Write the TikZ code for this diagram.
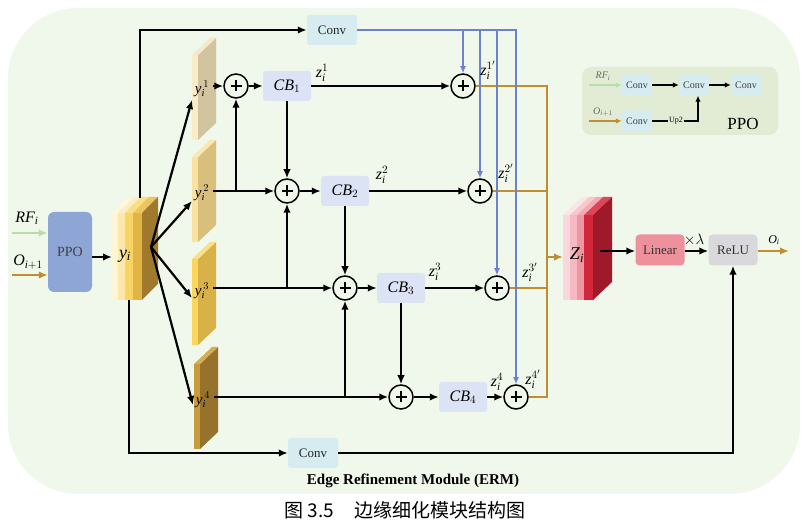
\RequirePackage{fix-cm}
\documentclass[tikz,border=0pt]{standalone}
\usepackage{fontspec}
\setmainfont{Liberation Serif}
\newfontfamily\cjkfont{Noto Sans CJK SC}
\usetikzlibrary{arrows.meta}
\definecolor{bgc}{RGB}{240,247,235}
\definecolor{insetc}{RGB}{226,236,212}
\definecolor{convc}{RGB}{214,236,240}
\definecolor{cbc}{RGB}{220,227,245}
\definecolor{ppoc}{RGB}{142,166,214}
\definecolor{linc}{RGB}{238,145,157}
\definecolor{reluc}{RGB}{217,217,220}
\definecolor{bluec}{RGB}{108,130,208}
\definecolor{goldc}{RGB}{192,142,46}
\definecolor{greenc}{RGB}{184,221,168}
% y block
\definecolor{yt1}{RGB}{254,246,222}
\definecolor{yt2}{RGB}{252,238,196}
\definecolor{yt3}{RGB}{250,222,130}
\definecolor{yt4}{RGB}{236,196,96}
\definecolor{yf1}{RGB}{254,244,214}
\definecolor{yf2}{RGB}{252,232,170}
\definecolor{yf3}{RGB}{248,212,100}
\definecolor{yf4}{RGB}{226,180,70}
\definecolor{ys}{RGB}{160,122,44}
% slabs
\definecolor{s1f}{RGB}{251,236,200}
\definecolor{s1s}{RGB}{211,196,160}
\definecolor{s1t}{RGB}{246,232,198}
\definecolor{s2f}{RGB}{250,226,160}
\definecolor{s2s}{RGB}{216,192,124}
\definecolor{s2t}{RGB}{250,232,176}
\definecolor{s3f}{RGB}{252,214,92}
\definecolor{s3s}{RGB}{216,178,72}
\definecolor{s3t}{RGB}{252,224,130}
\definecolor{s4f}{RGB}{200,155,60}
\definecolor{s4s}{RGB}{150,114,44}
\definecolor{s4t}{RGB}{214,172,84}
% Z block
\definecolor{zt1}{RGB}{252,228,231}
\definecolor{zt2}{RGB}{248,200,207}
\definecolor{zt3}{RGB}{242,170,180}
\definecolor{zt4}{RGB}{222,70,88}
\definecolor{zf1}{RGB}{250,215,220}
\definecolor{zf2}{RGB}{245,185,193}
\definecolor{zf3}{RGB}{238,150,162}
\definecolor{zf4}{RGB}{210,38,58}
\definecolor{zs}{RGB}{158,26,42}
\newcommand\mi[1]{\mathit{#1}}
\newcommand\fs[1]{\fontsize{#1}{#1}\selectfont}
% slab: x, top, height, front colour, side colour, top colour
\newcommand\slabdraw[6]{%
  \fill[#4] (#1,#2) rectangle ++(6,#3);
  \fill[#5] (#1+6,#2) -- ++(18,-17) -- ++(0,#3) -- ++(-18,17) -- cycle;
  \fill[#6] (#1,#2) -- ++(18,-17) -- ++(6,0) -- ++(-18,17) -- cycle;
}
\begin{document}
\begin{tikzpicture}[x=1pt,y=-1pt,
  convbox/.style={fill=convc, rounded corners=3pt, minimum width=50pt, minimum height=30pt, inner sep=0pt, font=\fs{13}, text=black!85},
  iconv/.style={fill=convc, rounded corners=2pt, minimum width=30pt, minimum height=21pt, inner sep=0pt, font=\fs{10}, text=black!75},
  cbbox/.style={fill=cbc, rounded corners=3pt, minimum width=48pt, minimum height=30pt, inner sep=0pt, font=\fs{16}},
  plusnode/.style={circle, draw=black, line width=1.5pt, fill=bgc, minimum size=24pt, inner sep=0pt,
    path picture={\draw[line width=1.7pt] ([xshift=-5.5pt]path picture bounding box.center) -- ([xshift=5.5pt]path picture bounding box.center) ([yshift=-5.5pt]path picture bounding box.center) -- ([yshift=5.5pt]path picture bounding box.center);}},
  lab/.style={inner sep=0pt, font=\fs{16}},
  slablab/.style={inner sep=0pt, font=\fs{15}},
  arr/.style={line width=2.2pt, -{Latex[length=9pt,width=7.5pt]}},
  arrs/.style={line width=1.5pt, -{Latex[length=6pt,width=5.5pt]}},
  bluel/.style={draw=bluec, line width=1.8pt},
  bluearr/.style={bluel, -{Latex[length=7pt,width=6pt]}},
  goldl/.style={draw=goldc, line width=2.8pt},
  goldarr/.style={goldl, -{Latex[length=9pt,width=7.5pt]}},
  greenarr/.style={draw=greenc, line width=2.6pt, -{Latex[length=9pt,width=7.5pt]}}
]
\useasboundingbox (0,0) rectangle (809,526);
\fill[bgc, rounded corners=70pt] (8,8) rectangle (800,494);

% ---------- PPO inset ----------
\fill[insetc, rounded corners=9pt] (582,67) rectangle (778,135);
\node[iconv] (ia) at (637,85) {Conv};
\node[iconv] (ib) at (694,85) {Conv};
\node[iconv] (ic) at (746,85) {Conv};
\node[iconv] (id) at (637,121) {Conv};
\coordinate (irf) at (589,85);
\coordinate (io) at (589,121);
\draw[draw=greenc, line width=1.5pt, -{Latex[length=6pt,width=5.5pt]}] (irf) -- (ia.west);
\draw[draw=goldc, line width=1.7pt, -{Latex[length=6pt,width=5.5pt]}] (io) -- (id.west);
\node[inner sep=0pt, font=\fs{10}, text=black!60] (irfl) at (603,76) {$\mi{RF}_{\mi{i}}$};
\node[inner sep=0pt, font=\fs{10}, text=black!60] (iol) at (603,112) {$\mi{O}_{\mi{i}+1}$};
\draw[arrs] (ia.east) -- (ib.west);
\draw[arrs] (ib.east) -- (ic.west);
\node[inner sep=1pt, font=\fs{8}] (up) at (676,121) {Up2};
\draw[line width=1.5pt] (id.east) -- (up.west);
\draw[arrs] (up.east) -| ([xshift=4pt]ib.south);
\node[inner sep=0pt, font=\fs{17}] (ppolab) at (743,124) {PPO};

% ---------- input PPO ----------
\node[fill=ppoc, rounded corners=6pt, minimum width=44pt, minimum height=80pt, inner sep=0pt, font=\fs{14}, text=black!75] (ppo) at (70,252) {PPO};
\coordinate (rf) at (12,233);
\coordinate (oi) at (12,275);
\draw[greenarr] (rf) -- (rf -| ppo.west);
\draw[goldarr] (oi) -- (oi -| ppo.west);
\node[lab] (rfl) at (27,218) {$\mi{RF}_{\mi{i}}$};
\node[lab] (oil) at (28,262) {$\mi{O}_{\mi{i}+1}$};

% ---------- y_i block ----------
\fill[yt1] (112,213) -- (128,197) -- (134,197) -- (118,213) -- cycle;
\fill[yt2] (118,213) -- (134,197) -- (141,197) -- (125,213) -- cycle;
\fill[yt3] (125,213) -- (141,197) -- (149,197) -- (133,213) -- cycle;
\fill[yt4] (133,213) -- (149,197) -- (158,197) -- (142,213) -- cycle;
\fill[yf1] (112,213) rectangle (118,300);
\fill[yf2] (118,213) rectangle (125,300);
\fill[yf3] (125,213) rectangle (133,300);
\fill[yf4] (133,213) rectangle (142,300);
\fill[ys] (142,213) -- (158,197) -- (158,284) -- (142,300) -- cycle;
\node[inner sep=0pt, font=\fs{18}] (yi) at (125,256) {$\mi{y}_{\mi{i}}$};

% ---------- slabs ----------
\slabdraw{192}{55}{85}{s1f}{s1s}{s1t}
\slabdraw{192}{157}{85}{s2f}{s2s}{s2t}
\slabdraw{192}{259}{86}{s3f}{s3s}{s3t}
\slabdraw{194}{364}{85}{s4f}{s4s}{s4t}
\node[slablab] (ya1) at (202,89) {$\mi{y}_{\mi{i}}^{\,1}$};
\node[slablab] (ya2) at (202,193) {$\mi{y}_{\mi{i}}^{\,2}$};
\node[slablab] (ya3) at (202,291) {$\mi{y}_{\mi{i}}^{\,3}$};
\node[slablab] (ya4) at (203,400) {$\mi{y}_{\mi{i}}^{\,4}$};

% ---------- Z block ----------
\fill[zt1] (563,215) -- (582,197) -- (589,197) -- (570,215) -- cycle;
\fill[zt2] (570,215) -- (589,197) -- (596,197) -- (577,215) -- cycle;
\fill[zt3] (577,215) -- (596,197) -- (603,197) -- (584,215) -- cycle;
\fill[zt4] (584,215) -- (603,197) -- (612,197) -- (593,215) -- cycle;
\fill[zf1] (563,215) rectangle (570,300);
\fill[zf2] (570,215) rectangle (577,300);
\fill[zf3] (577,215) rectangle (584,300);
\fill[zf4] (584,215) rectangle (593,300);
\fill[zs] (593,215) -- (612,197) -- (612,282) -- (593,300) -- cycle;
\node[inner sep=0pt, font=\fs{18}] (Z) at (577,255) {$\mi{Z}_{\mi{i}}$};

% ---------- boxes ----------
\node[convbox] (convT) at (332,30) {Conv};
\node[convbox] (convB) at (313,453) {Conv};
\node[cbbox] (cb1) at (287,86) {$\mi{CB}_1$};
\node[cbbox] (cb2) at (345,191) {$\mi{CB}_2$};
\node[cbbox] (cb3) at (401,288) {$\mi{CB}_3$};
\node[cbbox] (cb4) at (463,397) {$\mi{CB}_4$};
\node[plusnode] (p1) at (236,86) {};
\node[plusnode] (p2) at (287,191) {};
\node[plusnode] (p3) at (345,288) {};
\node[plusnode] (p4) at (401,397) {};
\node[plusnode] (q1) at (463,86) {};
\node[plusnode] (q2) at (480,191) {};
\node[plusnode] (q3) at (497,288) {};
\node[plusnode] (q4) at (516,397) {};
\node[fill=linc, rounded corners=4pt, minimum width=49pt, minimum height=31pt, inner sep=0pt, font=\fs{13}, text=black!80] (linear) at (660,250) {Linear};
\node[fill=reluc, rounded corners=4pt, minimum width=49pt, minimum height=31pt, inner sep=0pt, font=\fs{13}, text=black!80] (relu) at (733,250) {ReLU};

% ---------- connectors ----------
\coordinate (yin) at (112,257);
\draw[arr] (ppo.east |- yin) -- (yin);
\coordinate (fan) at (151,247);
\coordinate (t1) at (192,100);
\coordinate (t2) at (192,201);
\coordinate (t3) at (192,298);
\coordinate (t4) at (193,405);
\foreach \t in {t1,t2,t3,t4} \draw[arr] (fan) -- (\t);
\coordinate (ytop) at (140,198);
\coordinate (ybot) at (129,300);
\draw[arr] (ytop) |- (convT.west);
\draw[arr] (ybot) |- (convB.west);
\draw[arr] (convB.east) -| (relu.south);

\coordinate (s1) at (213,86);
\coordinate (s2) at (213,191);
\coordinate (s3) at (213,288);
\coordinate (s4) at (214,397);
\draw[arr] (s1) -- (p1.west);
\draw[arr] (s2) -- (p2.west);
\draw[arr] (s3) -- (p3.west);
\draw[arr] (s4) -- (p4.west);
\draw[arr] (p1 |- s2) -- (p1.south);
\draw[arr] (p2 |- s3) -- (p2.south);
\draw[arr] (p3 |- s4) -- (p3.south);
\draw[arr] (p1.east) -- (cb1.west);
\draw[arr] (p2.east) -- (cb2.west);
\draw[arr] (p3.east) -- (cb3.west);
\draw[arr] (p4.east) -- (cb4.west);
\draw[arr] (cb1.south) -- (p2.north);
\draw[arr] (cb2.south) -- (p3.north);
\draw[arr] (cb3.south) -- (p4.north);
\draw[arr] (cb1.east) -- (q1.west);
\draw[arr] (cb2.east) -- (q2.west);
\draw[arr] (cb3.east) -- (q3.west);
\draw[arr] (cb4.east) -- (q4.west);

% gold outputs
\coordinate (gb) at (547,86);
\coordinate (zin) at (563,257);
\draw[goldl] (q1.east) -| (gb |- q4) -- (q4.east);
\draw[goldl] (q2.east) -- (gb |- q2.east);
\draw[goldl] (q3.east) -- (gb |- q3.east);
\draw[goldarr] (gb |- zin) -- (zin);

% blue
\draw[bluearr] (convT.east) -| (q4.north);
\draw[bluearr] (q1 |- convT.east) -- (q1.north);
\draw[bluearr] (q2 |- convT.east) -- (q2.north);
\draw[bluearr] (q3 |- convT.east) -- (q3.north);

% output side
\coordinate (zout) at (600,251);
\coordinate (oout) at (789,251);
\draw[arr] (zout) -- (linear.west |- zout);
\draw[arr] (linear.east |- zout) -- (relu.west |- zout);
\draw[goldarr] (relu.east |- zout) -- (oout);
\node[inner sep=0pt, font=\fs{15}] (lam) at (694,240) {$\times\lambda$};
\node[inner sep=0pt, font=\fs{12}] (oil2) at (774,240) {$\mi{O}_{\mi{i}}$};

% labels
\node[lab] (z1) at (322,73) {$\mi{z}_{\mi{i}}^{1}$};
\node[lab] (z2) at (382,175) {$\mi{z}_{\mi{i}}^{2}$};
\node[lab] (z3) at (435,272) {$\mi{z}_{\mi{i}}^{3}$};
\node[lab] (z4) at (497,382) {$\mi{z}_{\mi{i}}^{4}$};
\node[lab] (z1p) at (488,70) {$\mi{z}_{\mi{i}}^{1'}$};
\node[lab] (z2p) at (506,173) {$\mi{z}_{\mi{i}}^{2'}$};
\node[lab] (z3p) at (530,272) {$\mi{z}_{\mi{i}}^{3'}$};
\node[lab] (z4p) at (533,379) {$\mi{z}_{\mi{i}}^{4'}$};

% titles
\node[inner sep=0pt, font=\fs{15}\bfseries] (title) at (413,481) {Edge Refinement Module (ERM)};
\node[inner sep=0pt, font=\fs{19}\cjkfont] (cap) at (405,510) {图 3.5\hspace{20pt}边缘细化模块结构图};
\end{tikzpicture}
\end{document}
